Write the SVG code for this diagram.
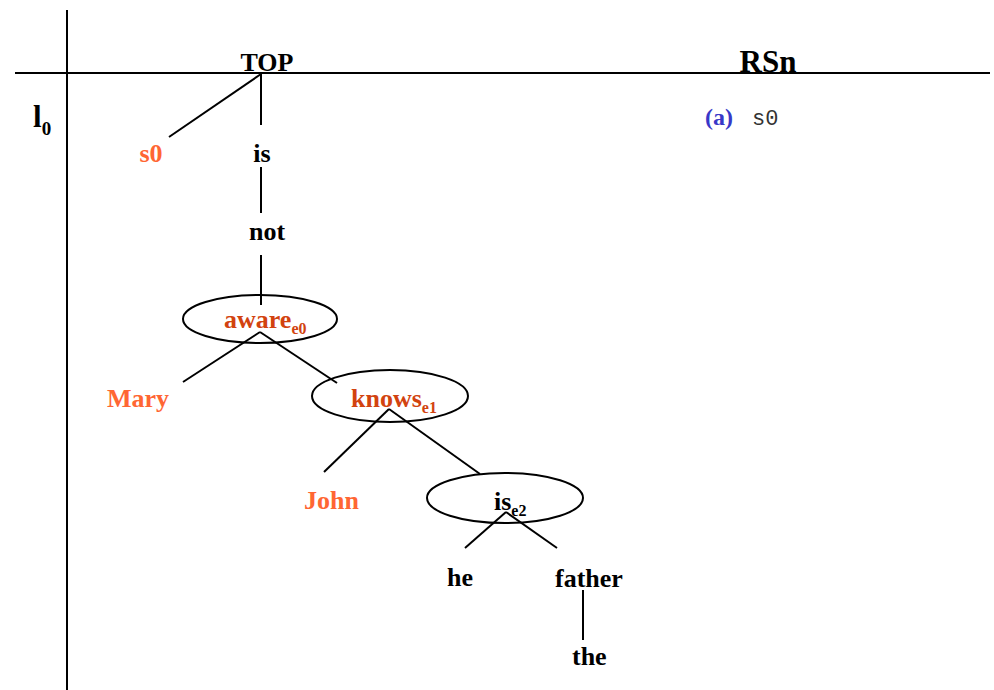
<svg xmlns="http://www.w3.org/2000/svg" width="994" height="690" viewBox="0 0 994 690">
  <style>
    .ln { stroke: #000; stroke-width: 2; fill: none; }
    .ell { stroke: #000; stroke-width: 2; fill: none; }
    text { font-family: "Liberation Serif", "Times New Roman", serif; font-weight: bold; }
    .w { font-size: 26px; fill: #000; }
    .arg { font-size: 26px; fill: #ff6633; }
    .ev { font-size: 26px; fill: #d2430f; }
    .sub { font-size: 16px; }
    .hdr { font-size: 31px; fill: #000; }
    .lab { font-size: 24px; fill: #3838c8; }
    .mono { font-family: "Liberation Mono", "Courier New", monospace; font-weight: normal; font-size: 22px; fill: #333; }
  </style>
  <rect width="994" height="690" fill="#fff"/>

  <!-- axes -->
  <g id="axes">
    <line class="ln" x1="67" y1="10" x2="67" y2="690"/>
    <line class="ln" x1="15" y1="73" x2="990" y2="73"/>
  </g>

  <!-- headers -->
  <g id="hdr-l0">
    <text x="33" y="127" font-size="31px">l<tspan font-size="19px" dy="8">0</tspan></text>
  </g>
  <g id="hdr-rsn">
    <text class="hdr" x="768" y="72" text-anchor="middle">RSn</text>
  </g>
  <g id="rs-a">
    <text class="lab" x="705" y="125">(a)</text>
    <text class="mono" x="752" y="125">s0</text>
  </g>

  <!-- connectors -->
  <g id="connectors">
    <line class="ln" x1="261" y1="74" x2="169" y2="137"/>
    <line class="ln" x1="261" y1="74" x2="261" y2="125"/>
    <line class="ln" x1="261" y1="167" x2="261" y2="213"/>
    <line class="ln" x1="261" y1="255" x2="261" y2="305"/>
    <line class="ln" x1="260" y1="332" x2="183" y2="382"/>
    <line class="ln" x1="260" y1="332" x2="337" y2="383"/>
    <line class="ln" x1="389" y1="409" x2="324" y2="472"/>
    <line class="ln" x1="389" y1="409" x2="480" y2="474"/>
    <line class="ln" x1="506" y1="512" x2="465" y2="548"/>
    <line class="ln" x1="506" y1="512" x2="557" y2="548"/>
    <line class="ln" x1="583" y1="590" x2="583" y2="640"/>
  </g>

  <!-- nodes -->
  <g id="n-top"><text class="w" x="267" y="71" text-anchor="middle">TOP</text></g>
  <g id="n-s0"><text class="arg" x="151" y="162" text-anchor="middle">s0</text></g>
  <g id="n-is"><text class="w" x="262" y="162" text-anchor="middle">is</text></g>
  <g id="n-not"><text class="w" x="267" y="240" text-anchor="middle">not</text></g>
  <g id="n-aware">
    <ellipse class="ell" cx="260" cy="319" rx="77" ry="24"/>
    <text class="ev" x="224" y="328">aware<tspan class="sub" dy="6">e0</tspan></text>
  </g>
  <g id="n-mary"><text class="arg" x="107" y="407">Mary</text></g>
  <g id="n-knows">
    <ellipse class="ell" cx="390" cy="396" rx="78" ry="26"/>
    <text class="ev" x="351" y="407">knows<tspan class="sub" dy="6">e1</tspan></text>
  </g>
  <g id="n-john"><text class="arg" x="304" y="509">John</text></g>
  <g id="n-ise2">
    <ellipse class="ell" cx="505" cy="498" rx="78" ry="25"/>
    <text class="w" x="494" y="510">is<tspan class="sub" dy="6">e2</tspan></text>
  </g>
  <g id="n-he"><text class="w" x="447" y="586">he</text></g>
  <g id="n-father"><text class="w" x="555" y="587">father</text></g>
  <g id="n-the"><text class="w" x="572" y="665">the</text></g>
</svg>
